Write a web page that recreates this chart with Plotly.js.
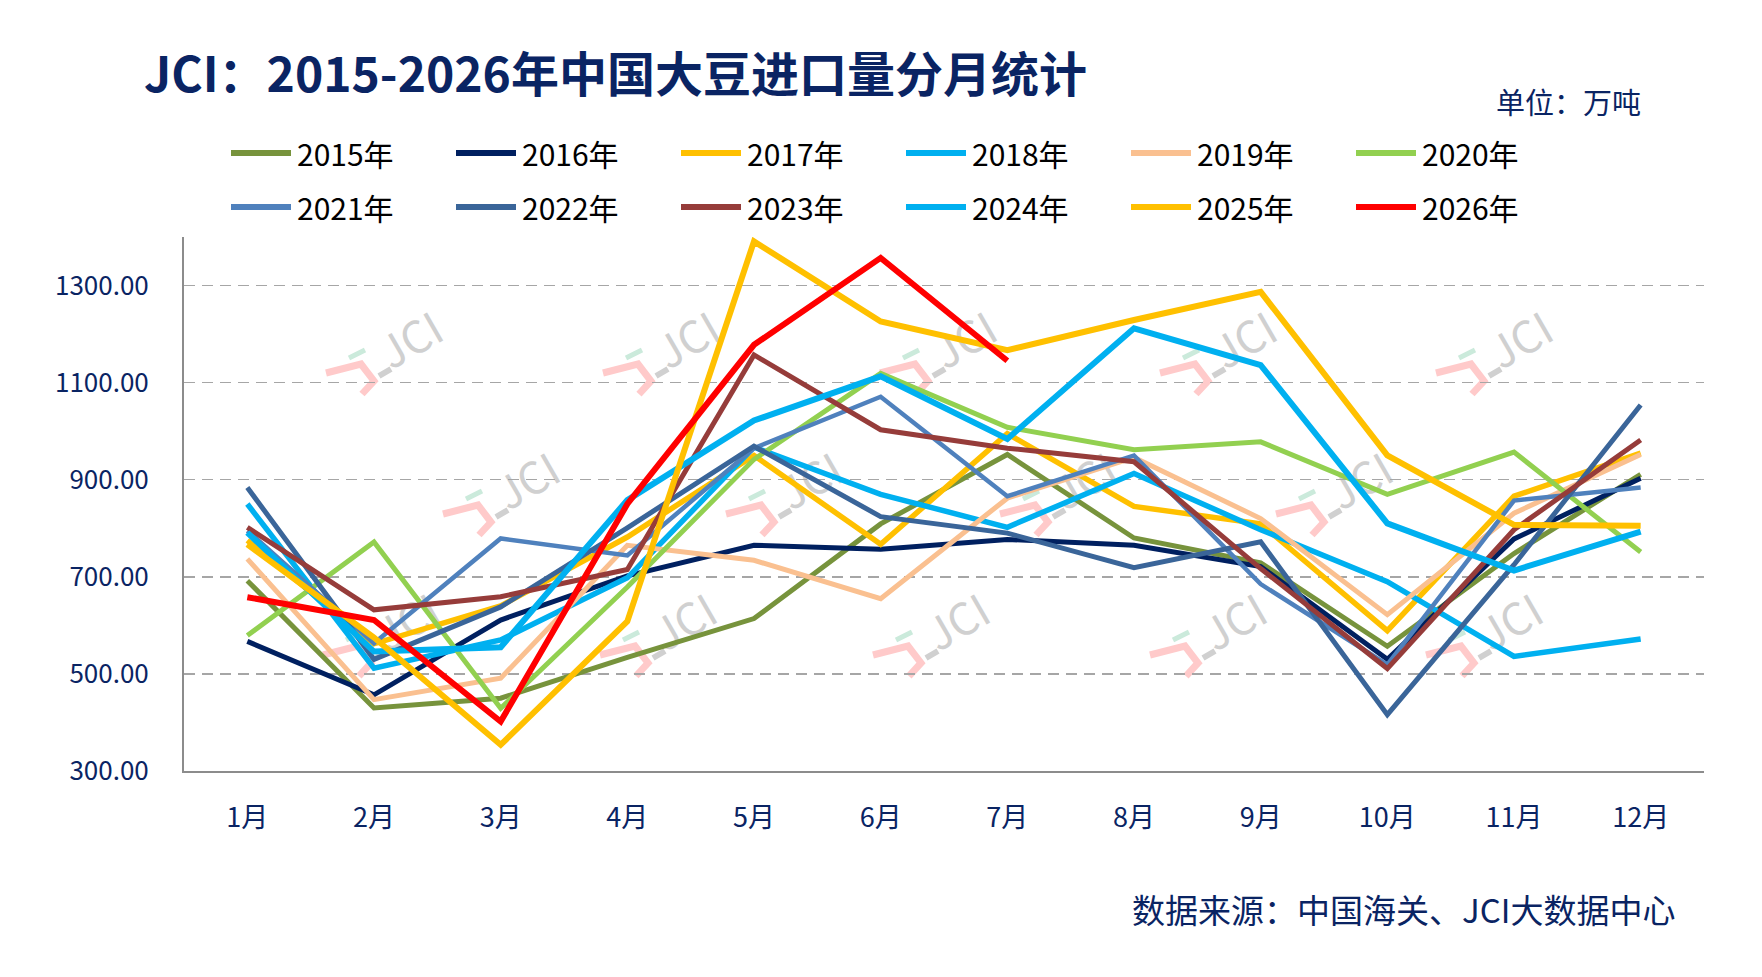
<!DOCTYPE html>
<html>
<head>
<meta charset="utf-8">
<script src="https://cdn.plot.ly/plotly-3.0.1.min.js"></script>
<style>
  html, body { margin:0; padding:0; background:#fff; }
  #chart { width:1762px; height:977px; }
</style>
</head>
<body>
<div id="chart"></div>
<script>
/* ---- data (万吨) ---- */
const months = ['1月','2月','3月','4月','5月','6月','7月','8月','9月','10月','11月','12月'];
const years  = ['2015年','2016年','2017年','2018年','2019年','2020年','2021年','2022年','2023年','2024年','2025年','2026年'];

const y2015 = [692, 430, 450, 534, 614, 809, 952, 780, 729, 557, 748, 911];
const y2016 = [567, 457, 611, 702, 765, 757, 777, 765, 721, 530, 778, 903];
const y2017 = [775, 562, 640, 782, 950, 767, 995, 845, 809, 589, 866, 955];
const y2018 = [850, 512, 570, 698, 967, 870, 802, 913, 797, 690, 536, 572];
const y2019 = [737, 447, 491, 765, 734, 655, 862, 946, 820, 622, 831, 952];
const y2020 = [579, 772, 429, 679, 942, 1119, 1008, 962, 978, 870, 957, 751];
const y2021 = [795, 563, 779, 744, 965, 1071, 866, 950, 685, 519, 857, 884];
const y2022 = [884, 530, 638, 801, 969, 824, 790, 719, 772, 416, 725, 1054];
const y2023 = [802, 632, 659, 715, 1157, 1003, 965, 937, 717, 511, 797, 982];
const y2024 = [791, 546, 555, 858, 1022, 1113, 984, 1212, 1136, 810, 713, 793];
const y2025 = [767, 575, 354, 608, 1391, 1226, 1167, 1229, 1287, 950, 807, 805];
const y2026 = [658, 611, 402, 850, 1178, 1357, 1145];

const series = [y2015, y2016, y2017, y2018, y2019, y2020, y2021, y2022, y2023, y2024, y2025, y2026];

/* ---- styles ---- */
const colors = ['#77933c','#002060','#ffc000','#00b0f0','#fac090','#92d050',
                '#4f81bd','#3a6599','#963c3a','#00b0f0','#ffc000','#ff0000'];
const widths = [5, 5, 5.5, 5.5, 5, 5, 4.5, 5, 5, 6, 6, 6];
const NAVY = '#0a2463';
const FONT = '"Noto Sans CJK SC", "Noto Sans", sans-serif';

// page geometry (px)
const W = 1762, H = 977;
const M = { l: 184, r: 58, t: 237, b: 206 };
const PW = W - M.l - M.r, PH = H - M.t - M.b;
const px = x => (x - M.l) / PW;
const py = y => (H - M.b - y) / PH;

const traces = series.map((vals, i) => ({
  type: 'scatter',
  mode: 'lines',
  name: years[i],
  x: months.slice(0, vals.length),
  y: vals,
  line: { color: colors[i], width: widths[i] },
  hovertemplate: '%{x}: %{y:.2f}<extra>' + years[i] + '</extra>'
}));

const shapes = [];
const annotations = [];

// ---- legend (two rows of six) ----
years.forEach((name, i) => {
  const r = Math.floor(i / 6), c = i % 6;
  const yy = 153 + 54 * r;
  const x0 = 231 + 225 * c;
  shapes.push({
    type: 'line', xref: 'paper', yref: 'paper',
    x0: px(x0), x1: px(x0 + 60), y0: py(yy), y1: py(yy),
    line: { color: colors[i], width: 6 }
  });
  annotations.push({
    xref: 'paper', yref: 'paper', x: px(x0 + 64), y: py(yy),
    xanchor: 'left', yanchor: 'middle', showarrow: false,
    text: name, font: { family: FONT, size: 30, color: '#000' }
  });
});

// ---- watermark logos ----
const marks = [
  [413, 344], [690, 344], [967, 344], [1247, 344], [1523, 344],
  [530, 485], [813, 485], [1087, 485], [1363, 485],
  [410, 626], [687, 626], [960, 626], [1237, 626], [1513, 626]
];
function path(pts) {
  return pts.map((p, k) => (k ? 'L' : 'M') + px(p[0]).toFixed(5) + ',' + py(p[1]).toFixed(5)).join(' ');
}
marks.forEach(([cx, cy]) => {
  const pcx = cx - 62, pcy = cy + 35;
  shapes.push({
    type: 'path', xref: 'paper', yref: 'paper', layer: 'below',
    path: path([[pcx - 25, pcy - 6], [pcx + 10, pcy - 15], [pcx + 23, pcy + 2], [pcx + 11, pcy + 15]]),
    line: { color: '#ffcaca', width: 7 }
  });
  shapes.push({
    type: 'path', xref: 'paper', yref: 'paper', layer: 'below',
    path: path([[pcx - 2, pcy - 21], [pcx + 14, pcy - 29]]),
    line: { color: '#cbeadb', width: 5 }
  });
  shapes.push({
    type: 'path', xref: 'paper', yref: 'paper', layer: 'below',
    path: path([[cx - 34, cy + 32], [cx - 22, cy + 25]]),
    line: { color: '#d0d0d0', width: 6 }
  });
  shapes.push({
    type: 'rect', xref: 'paper', yref: 'paper', layer: 'below',
    x0: px(cx - 40), x1: px(cx + 40), y0: py(cy + 25), y1: py(cy - 25),
    line: { width: 0 }, fillcolor: 'rgba(0,0,0,0)',
    label: { text: 'JCI', textangle: -30, textposition: 'middle center',
             font: { family: FONT, size: 44, color: '#d0d0d0' } }
  });
});

// ---- unit and source ----
annotations.push({
  xref: 'paper', yref: 'paper', x: px(1643), y: py(101),
  xanchor: 'right', yanchor: 'middle', showarrow: false,
  text: '单位：万吨', font: { family: FONT, size: 29, color: NAVY }
});
annotations.push({
  xref: 'paper', yref: 'paper', x: px(1677), y: py(909),
  xanchor: 'right', yanchor: 'middle', showarrow: false,
  text: '数据来源：中国海关、JCI大数据中心', font: { family: FONT, size: 33, color: NAVY }
});

const layout = {
  width: W, height: H,
  margin: M,
  paper_bgcolor: '#fff',
  plot_bgcolor: 'rgba(0,0,0,0)',
  showlegend: false,
  font: { family: FONT, color: NAVY },
  title: {
    text: '<b>JCI：2015-2026年中国大豆进口量分月统计</b>',
    x: 144 / W, xanchor: 'left', xref: 'container',
    y: 1 - 75 / H, yanchor: 'middle', yref: 'container',
    font: { family: FONT, size: 48, color: NAVY }
  },
  xaxis: {
    type: 'category',
    range: [-0.5, 11.5],
    showgrid: false, zeroline: false,
    showline: true, linecolor: '#8c8c8c', linewidth: 2,
    ticks: '', ticklabelstandoff: 22,
    tickfont: { family: FONT, size: 27, color: NAVY }
  },
  yaxis: {
    range: [300, 1400],
    tick0: 300, dtick: 200,
    tickformat: '.2f',
    showgrid: true, gridcolor: '#a6a6a6', gridwidth: 1.5, griddash: '11px,7px',
    zeroline: false,
    showline: true, linecolor: '#8c8c8c', linewidth: 2,
    ticks: '', ticklabelstandoff: 28,
    tickfont: { family: FONT, size: 26, color: NAVY }
  },
  shapes, annotations
};

Plotly.newPlot('chart', traces, layout, { displayModeBar: false, staticPlot: true });
</script>
</body>
</html>
